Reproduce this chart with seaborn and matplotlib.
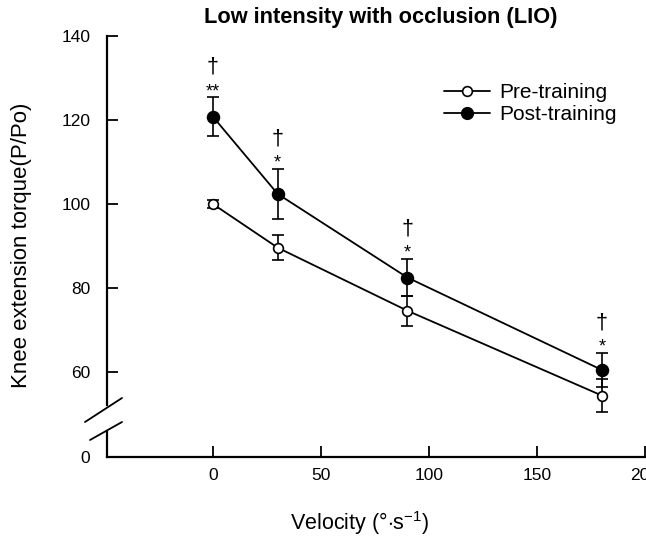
import matplotlib
matplotlib.use("Agg")
import matplotlib.pyplot as plt
from matplotlib.lines import Line2D
import seaborn as sns
import pandas as pd

# Isokinetic knee extension torque, relative to isometric (P/Po, %)
velocity = [0, 30, 90, 180]
pre_mean = [100.0, 89.6, 74.6, 54.4]
pre_sd = [1.0, 3.0, 3.6, 4.0]
post_mean = [120.8, 102.4, 82.5, 60.5]
post_sd = [4.6, 6.0, 4.5, 4.0]
star_marks = ["**", "*", "*", "*"]
dagger_marks = ["\u2020", "\u2020", "\u2020", "\u2020"]
series_labels = ["Pre-training", "Post-training"]
x_ticks = [0, 50, 100, 150, 200]
y_ticks = [60, 80, 100, 120, 140]

sns.set_style("ticks")
plt.rcParams["font.family"] = ["Liberation Sans", "DejaVu Sans"]
plt.rcParams["mathtext.fontset"] = "custom"
plt.rcParams["mathtext.rm"] = "Liberation Sans"
for key in ("text.color", "axes.labelcolor", "xtick.color", "ytick.color",
            "axes.edgecolor"):
    plt.rcParams[key] = "black"

df = pd.DataFrame({
    "velocity": velocity * 2,
    "torque": pre_mean + post_mean,
    "sd": pre_sd + post_sd,
    "phase": [series_labels[0]] * 4 + [series_labels[1]] * 4,
})

W, H = 646, 546
fig = plt.figure(figsize=(W / 100, H / 100), dpi=100)


def px_rect(x0, y_top, x1, y_bot):
    return [x0 / W, 1 - y_bot / H, (x1 - x0) / W, (y_bot - y_top) / H]


ax = fig.add_axes(px_rect(107, 36, 645, 405))
ax_low = fig.add_axes(px_rect(107, 432, 645, 457), sharex=ax)

for a in (ax, ax_low):
    a.set_facecolor("none")

styles = {
    series_labels[0]: dict(markerfacecolor="white", markersize=7),
    series_labels[1]: dict(markerfacecolor="black", markersize=8.5),
}

for phase, sub in df.groupby("phase", sort=False):
    ax.errorbar(sub["velocity"], sub["torque"], yerr=sub["sd"], fmt="none",
                ecolor="black", elinewidth=1.2, capsize=4, capthick=1.2,
                zorder=2, clip_on=False)
    sns.lineplot(data=sub, x="velocity", y="torque", ax=ax, color="black",
                 marker="o", markeredgecolor="black", markeredgewidth=1.2,
                 linewidth=1.3, legend=False, zorder=3, clip_on=False,
                 **styles[phase])

# significance marks above the post-training error bars
for v, m, s, star, dag in zip(velocity, post_mean, post_sd, star_marks, dagger_marks):
    top = m + s
    ax.annotate(star, xy=(v, top), xytext=(0, -2), textcoords="offset points",
                ha="center", va="bottom", fontsize=13, annotation_clip=False)
    ax.annotate(dag, xy=(v, top), xytext=(0, 14), textcoords="offset points",
                ha="center", va="bottom", fontsize=15.5, annotation_clip=False)

ax.set_xlim(-49, 200)
ax.set_ylim(140 - (405 - 36) / 4.2, 140)
ax.set_yticks(y_ticks)
ax_low.set_ylim(0, 6)
ax_low.set_yticks([0])
ax_low.set_xticks(x_ticks)

for side in ("top", "right", "bottom"):
    ax.spines[side].set_visible(False)
for side in ("top", "right"):
    ax_low.spines[side].set_visible(False)
for a in (ax, ax_low):
    for s in a.spines.values():
        s.set_linewidth(1.6)
    a.tick_params(direction="in", length=8, width=1.3, labelsize=12.5, pad=12,
                  colors="black")
ax.tick_params(axis="x", bottom=False, labelbottom=False)
ax_low.tick_params(axis="x", pad=8)
ax.set_xlabel("")

ax.set_title("Low intensity with occlusion (LIO)", fontsize=15.7,
             fontweight="bold", x=(381 - 107) / 538, y=1 + 18 / 369,
             va="center", pad=0)
ax.set_ylabel("Knee extension torque(P/Po)", fontsize=16)
ax.yaxis.set_label_coords((22 - 107) / 538, 1 - (245 - 36) / 369)
ax.yaxis.label.set_verticalalignment("center")
ax_low.set_ylabel("")
ax_low.set_xlabel(r"Velocity (°$\cdot$s$^{\mathregular{-1}}$)", fontsize=15.5)
ax_low.xaxis.set_label_coords((360 - 107) / 538, -(523 - 457) / 25)
ax_low.xaxis.label.set_verticalalignment("center")

# axis break marks
for (x0, y0), (x1, y1) in [((85, 422), (122, 398)), ((90, 440), (122, 422))]:
    fig.add_artist(Line2D([x0 / W, x1 / W], [1 - y0 / H, 1 - y1 / H],
                          transform=fig.transFigure, color="black", lw=1.3))

handles = [
    Line2D([], [], color="black", lw=1.3, marker="o", markersize=7,
           markerfacecolor="white", markeredgecolor="black", markeredgewidth=1.2),
    Line2D([], [], color="black", lw=1.3, marker="o", markersize=8.5,
           markerfacecolor="black", markeredgecolor="black"),
]
ax.legend(handles, series_labels, loc="upper left",
          bbox_to_anchor=(444 / W, 1 - 83 / H), bbox_transform=fig.transFigure,
          frameon=False, fontsize=15, handlelength=2.2, handletextpad=0.45,
          labelspacing=0.15, borderpad=0, borderaxespad=0)

fig.savefig("out.png", dpi=100, facecolor="white")
